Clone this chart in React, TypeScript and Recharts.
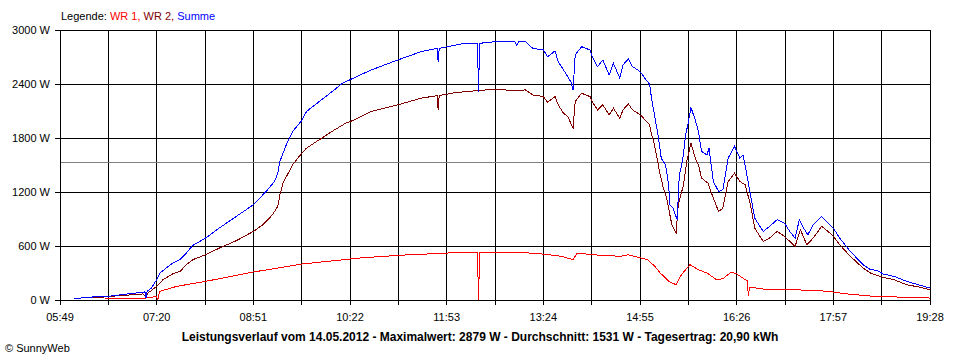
import { LineChart, Line, XAxis, YAxis, CartesianGrid, ReferenceLine } from 'recharts';

// minutes after midnight, watts
const WR1: [number, number][] = [
  [391, 11], [430, 22], [438, 35], [440, 40], [441, 0], [442, 60], [443, 96], [459, 152], [486, 207],
  [531, 311], [577, 400], [631, 466], [667, 496], [714, 522], [742, 529], [743, 0], [744, 529],
  [759, 533], [783, 529], [804, 510], [821, 485], [832, 448], [836, 522], [850, 503], [877, 485],
  [884, 503], [896, 466], [902, 448], [909, 374], [914, 300], [923, 200], [929, 170], [934, 281],
  [942, 392], [950, 337], [958, 300], [967, 226], [973, 237], [981, 311], [986, 289], [994, 226],
  [996, 215], [997, 40], [998, 133], [1000, 141], [1011, 122], [1033, 115], [1061, 107], [1077, 89],
  [1090, 67], [1115, 41], [1146, 30], [1168, 22],
];

const WR2: [number, number][] = [
  [380, 22], [396, 40], [427, 67], [430, 40], [432, 85], [434, 96], [440, 152], [446, 226], [455, 289],
  [462, 318], [468, 392], [474, 448], [486, 503], [499, 577], [515, 659], [531, 762], [540, 836],
  [549, 947], [554, 1040], [556, 1169], [559, 1299], [563, 1391], [568, 1502], [574, 1595], [581, 1687],
  [593, 1780], [606, 1880], [618, 1965], [627, 2005], [642, 2094], [667, 2168], [689, 2242],
  [704, 2271], [705, 2112], [706, 2271], [721, 2305], [743, 2327], [758, 2342], [777, 2327], [787, 2334],
  [794, 2279], [804, 2260], [808, 2197], [815, 2260], [818, 2168], [823, 2075], [827, 2038], [832, 1909],
  [834, 2205], [840, 2297], [848, 2260], [850, 2205], [855, 2112], [860, 2168], [866, 2057], [870, 2131],
  [876, 2020], [879, 2112], [884, 2179], [888, 2112], [893, 2075], [897, 2038], [901, 1983], [904, 1946],
  [906, 1835], [908, 1761], [911, 1576], [914, 1391], [917, 1243], [920, 1132], [925, 836], [929, 744],
  [931, 1058], [936, 1280], [939, 1539], [943, 1742], [947, 1576], [950, 1502], [953, 1354], [959, 1299],
  [964, 1132], [969, 984], [973, 1021], [978, 1317], [984, 1410], [989, 1317], [994, 1280], [999, 1058],
  [1003, 799], [1011, 651], [1017, 688], [1024, 762], [1031, 707], [1036, 651], [1041, 596], [1046, 781],
  [1052, 614], [1058, 688], [1066, 818], [1072, 762], [1077, 707], [1083, 614], [1093, 485], [1105, 355],
  [1112, 300], [1118, 274], [1124, 252], [1134, 226], [1146, 170], [1159, 141], [1168, 115],
];

const SUMME: [number, number][] = [
  [362, 15], [377, 30], [385, 40], [394, 40], [412, 67], [427, 85], [429, 90], [430, 20], [431, 95],
  [435, 133], [440, 226], [443, 300], [449, 355], [455, 410], [462, 448], [468, 522], [474, 607],
  [486, 688], [499, 800], [515, 929], [531, 1058], [543, 1206], [551, 1317], [554, 1410], [556, 1539],
  [562, 1724], [568, 1872], [577, 2001], [581, 2094], [593, 2205], [606, 2323], [615, 2409], [627, 2475],
  [642, 2556], [667, 2667], [689, 2760], [704, 2797], [705, 2641], [706, 2797], [714, 2815], [730, 2852],
  [742, 2852], [743, 2316], [744, 2852], [759, 2871], [777, 2871], [779, 2830], [781, 2871], [787, 2871],
  [794, 2797], [804, 2778], [808, 2704], [815, 2767], [818, 2649], [823, 2556], [827, 2482], [830, 2420],
  [832, 2334], [834, 2723], [840, 2815], [848, 2778], [850, 2704], [855, 2593], [860, 2667], [866, 2501],
  [870, 2630], [876, 2464], [879, 2612], [884, 2678], [888, 2593], [893, 2556], [897, 2510], [901, 2440],
  [904, 2400], [906, 2230], [909, 2030], [912, 1835], [915, 1576], [919, 1502], [922, 1280], [923, 1058],
  [926, 1021], [930, 892], [932, 1391], [935, 1539], [938, 1835], [940, 1946], [943, 2138], [947, 2001],
  [950, 1872], [953, 1650], [958, 1613], [960, 1687], [964, 1317], [969, 1206], [973, 1225], [978, 1576],
  [984, 1706], [989, 1576], [992, 1613], [995, 1428], [999, 1169], [1003, 910], [1011, 762], [1017, 818],
  [1024, 892], [1031, 855], [1036, 762], [1041, 688], [1045, 892], [1049, 799], [1053, 725], [1058, 836],
  [1066, 929], [1072, 855], [1077, 799], [1083, 688], [1093, 540], [1105, 392], [1112, 337], [1118, 329],
  [1124, 289], [1134, 263], [1146, 207], [1159, 163], [1168, 133],
];

const TIME_LABELS = ['05:49', '07:20', '08:51', '10:22', '11:53', '13:24', '14:55', '16:26', '17:57', '19:28'];
const W_TICKS = [0, 600, 1200, 1800, 2400, 3000];
const AVERAGE = 1531;
const TITLE = 'Leistungsverlauf vom 14.05.2012 - Maximalwert: 2879 W - Durchschnitt: 1531 W - Tagesertrag: 20,90 kWh';

const toMin = (s: string) => {
  const [h, m] = s.split(':').map(Number);
  return h * 60 + m;
};
const labelMins = TIME_LABELS.map(toMin);
// grid every half label step
const xTicks: number[] = [];
labelMins.forEach((m, i) => {
  xTicks.push(m);
  if (i < labelMins.length - 1) xTicks.push((m + labelMins[i + 1]) / 2);
});
const fmtTime = (v: number) => {
  const i = labelMins.indexOf(v);
  return i >= 0 ? TIME_LABELS[i] : '';
};

const toRows = (arr: [number, number][]) => arr.map(([t, w]) => ({ t, w }));

const FONT = '"Liberation Sans", Arial, sans-serif';

export default function App() {
  return (
    <div style={{ position: 'absolute', left: 0, top: 0, width: 960, height: 360, background: '#fff', fontFamily: FONT }}>
      <div style={{ position: 'absolute', left: 61, top: 10, fontSize: 11, lineHeight: '13px', whiteSpace: 'nowrap' }}>
        <span style={{ color: '#000' }}>Legende: </span>
        <span style={{ color: '#ff0000' }}>WR 1, </span>
        <span style={{ color: '#800000' }}>WR 2, </span>
        <span style={{ color: '#0000ff' }}>Summe</span>
      </div>
      <LineChart
        width={960}
        height={360}
        margin={{ top: 30, right: 30, left: 0, bottom: 40 }}
        style={{ shapeRendering: 'crispEdges', fontFamily: FONT }}
      >
        <CartesianGrid stroke="#000" strokeWidth={1} />
        <XAxis
          type="number"
          dataKey="t"
          domain={[labelMins[0], labelMins[labelMins.length - 1]]}
          ticks={xTicks}
          interval={0}
          tickFormatter={fmtTime}
          height={20}
          tickSize={5}
          tickMargin={8}
          stroke="#000"
          tick={{ fill: '#000', fontSize: 11 }}
          allowDuplicatedCategory={false}
        />
        <YAxis
          type="number"
          domain={[0, 3000]}
          ticks={W_TICKS}
          interval={0}
          tickFormatter={(v: number) => `${v} W`}
          width={60}
          tickSize={5}
          tickMargin={5}
          stroke="#000"
          tick={{ fill: '#000', fontSize: 11 }}
        />
        <ReferenceLine y={AVERAGE} stroke="#808080" strokeWidth={1} />
        <Line data={toRows(WR1)} dataKey="w" type="linear" stroke="#ff0000" strokeWidth={1} dot={false} isAnimationActive={false} />
        <Line data={toRows(WR2)} dataKey="w" type="linear" stroke="#800000" strokeWidth={1} dot={false} isAnimationActive={false} />
        <Line data={toRows(SUMME)} dataKey="w" type="linear" stroke="#0000ff" strokeWidth={1} dot={false} isAnimationActive={false} />
      </LineChart>
      <div style={{ position: 'absolute', left: 0, width: 960, top: 330, textAlign: 'center', fontSize: 12, fontWeight: 'bold', lineHeight: '14px', whiteSpace: 'nowrap' }}>
        {TITLE}
      </div>
      <div style={{ position: 'absolute', left: 5, top: 342, fontSize: 11, lineHeight: '13px', whiteSpace: 'nowrap' }}>
        © SunnyWeb
      </div>
    </div>
  );
}
